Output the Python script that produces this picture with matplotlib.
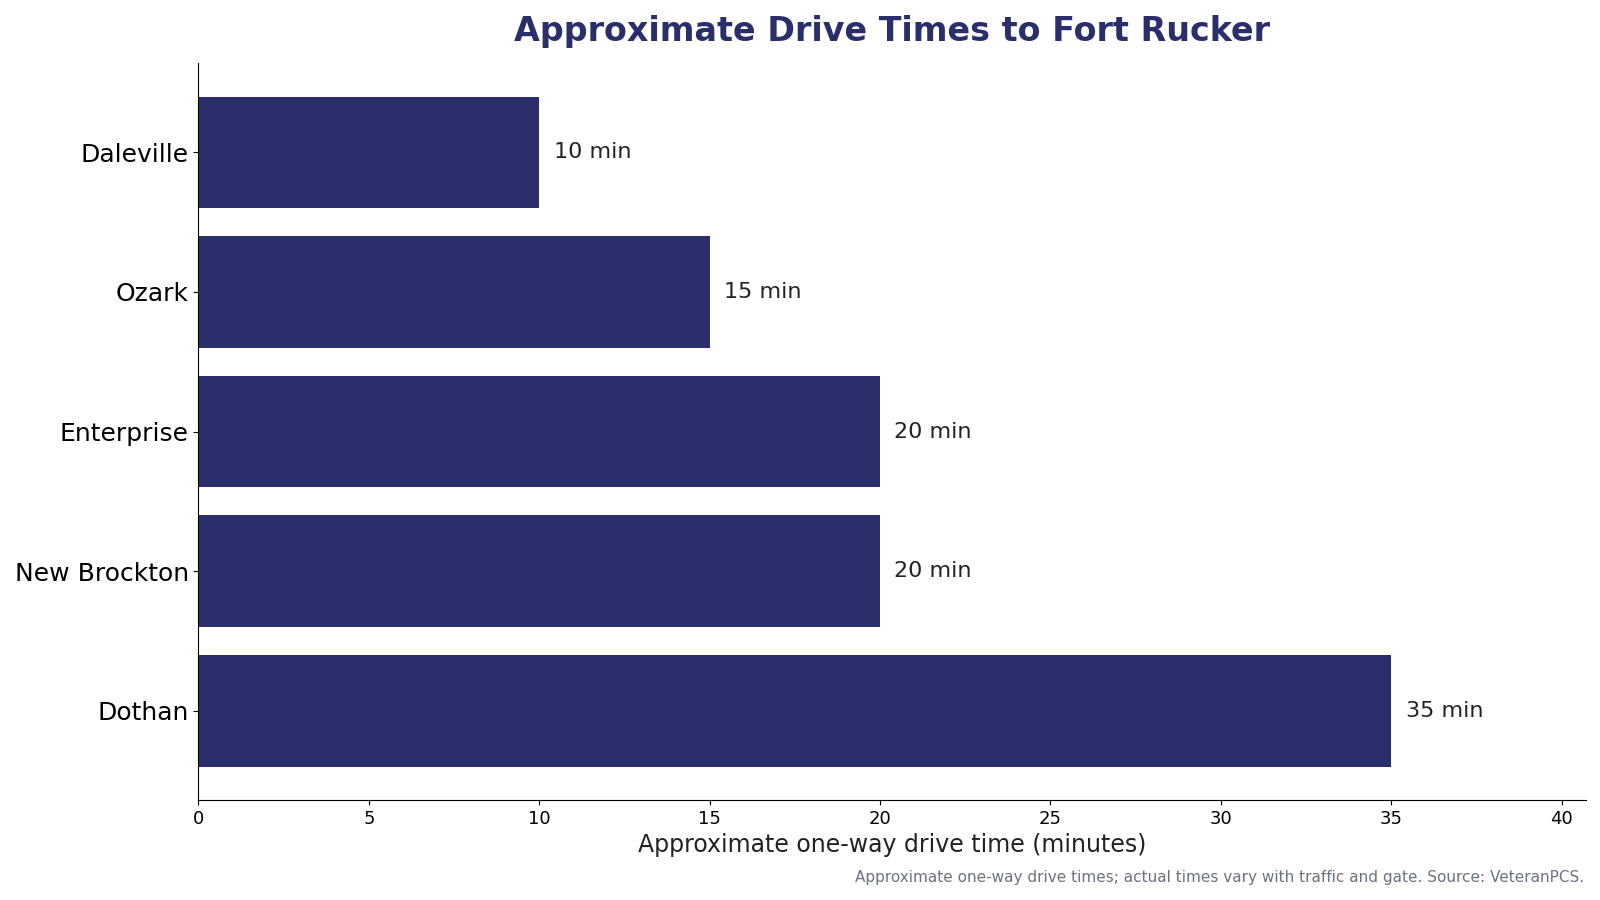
import matplotlib
matplotlib.use("Agg")
import matplotlib.pyplot as plt

plt.rcParams["font.family"] = ["DejaVu Sans"]

towns = ["Daleville", "Ozark", "Enterprise", "New Brockton", "Dothan"]
minutes = [10, 15, 20, 20, 35]
xticks = [0, 5, 10, 15, 20, 25, 30, 35, 40]

navy = "#2A2F6B"

fig = plt.figure(figsize=(16, 9), dpi=100)
ax = fig.add_axes([0.124, 0.111, 0.867, 0.819])

ypos = list(range(len(towns)))[::-1]
ax.barh(ypos, minutes, height=0.8, color=navy)
for y, v in zip(ypos, minutes):
    ax.text(v + 0.42, y, f"{v} min", va="center", ha="left", fontsize=16, color="#222222")

ax.set_yticks(ypos)
ax.set_yticklabels(towns, fontsize=18)
ax.set_xticks(xticks)
ax.tick_params(axis="x", labelsize=13)
ax.set_xlim(0, 40.7)
ax.set_xlabel("Approximate one-way drive time (minutes)", fontsize=17, color="#222222")
ax.spines["top"].set_visible(False)
ax.spines["right"].set_visible(False)

ax.set_title("Approximate Drive Times to Fort Rucker", fontsize=24, fontweight="bold",
             color=navy, pad=16)
fig.text(0.99, 0.025, "Approximate one-way drive times; actual times vary with traffic and gate. Source: VeteranPCS.",
         ha="right", va="center", fontsize=11, color="#6B7280")

fig.savefig("out.png", dpi=100)
